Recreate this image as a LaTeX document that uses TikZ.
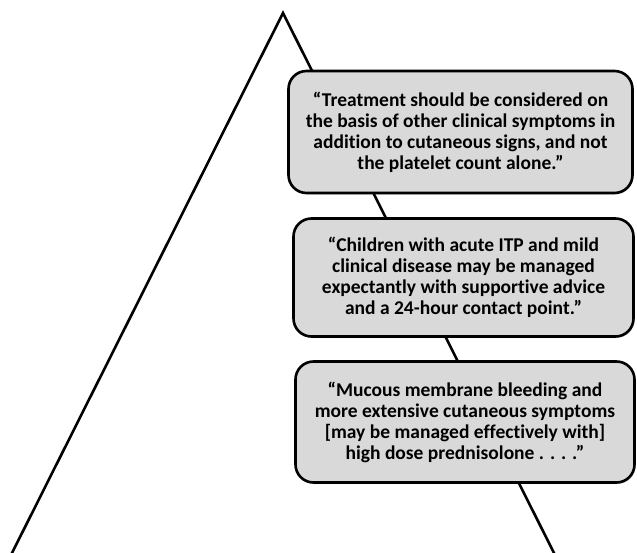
\documentclass[tikz,border=0pt]{standalone}
\usepackage{fontspec}
\setmainfont{Carlito}[Ligatures=NoCommon]
\usetikzlibrary{shadows}
\definecolor{boxgray}{RGB}{217,217,217}
\begin{document}
\begin{tikzpicture}[x=1pt,y=-1pt,
  edge/.style={draw=black, line width=2.6pt, line join=miter},
  quote/.style={draw=black, line width=2.6pt, fill=boxgray, rounded corners=18pt,
    align=center, inner sep=0pt,
    font=\bfseries\fontsize{19.5}{21}\selectfont,
    drop shadow={shadow xshift=1pt, shadow yshift=-1.5pt, opacity=0.35}}]
\useasboundingbox (0,0) rectangle (637,553);
\coordinate (apex) at (283,13);
\coordinate (bl) at (10,557);
\coordinate (br) at (556,557);
\draw[edge] (bl) -- (apex) -- (br);
\node[quote, minimum width=344pt, minimum height=122pt] (q1) at (460.5,132)
  {“Treatment should be considered on\\the basis of other clinical symptoms in\\addition to cutaneous signs, and not\\the platelet count alone.”};
\node[quote, minimum width=340pt, minimum height=118pt] (q2) at (463.5,277.5)
  {“Children with acute ITP and mild\\clinical disease may be managed\\expectantly with supportive advice\\and a 24-hour contact point.”};
\node[quote, minimum width=339pt, minimum height=121pt] (q3) at (465,422)
  {“Mucous membrane bleeding and\\more extensive cutaneous symptoms\\{[may be managed effectively with]}\\high dose prednisolone . . . .”};
\end{tikzpicture}
\end{document}
